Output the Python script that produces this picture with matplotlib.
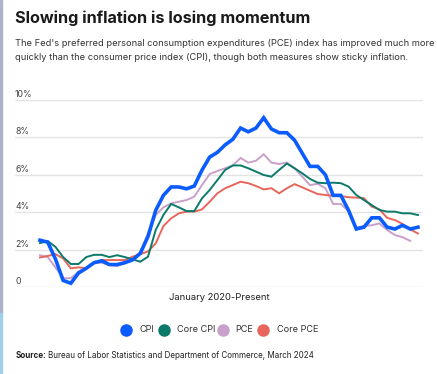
import matplotlib
matplotlib.use("Agg")
import matplotlib.pyplot as plt
from matplotlib.lines import Line2D
from matplotlib.patches import Rectangle
import numpy as np

months = list(range(50))  # Jan 2020 .. Feb 2024

cpi = [2.5, 2.4, 1.5, 0.35, 0.2, 0.75, 1.0, 1.3, 1.4, 1.2, 1.2, 1.3,
       1.45, 1.8, 2.7, 4.1, 4.9, 5.35, 5.35, 5.25, 5.4, 6.25, 6.95, 7.2,
       7.6, 7.9, 8.5, 8.3, 8.5, 9.05, 8.45, 8.25, 8.25, 7.85, 7.15, 6.45,
       6.45, 6.0, 4.9, 4.9, 4.1, 3.1, 3.2, 3.7, 3.7, 3.2, 3.1, 3.3, 3.1, 3.2]

core_cpi = [2.35, 2.45, 2.15, 1.6, 1.23, 1.23, 1.6, 1.72, 1.72, 1.6, 1.7, 1.6,
            1.48, 1.35, 1.62, 3.05, 3.85, 4.44, 4.26, 4.06, 4.06, 4.74, 5.19, 5.72,
            6.26, 6.5, 6.5, 6.35, 6.17, 5.99, 5.9, 6.26, 6.6, 6.35, 6.08, 5.78,
            5.58, 5.55, 5.58, 5.55, 5.37, 4.92, 4.65, 4.38, 4.12, 4.03, 4.03, 3.94, 3.94, 3.85]

pce = [1.7, 1.6, 1.05, 0.47, 0.47, 0.82, 1.05, 1.27, 1.3, 1.18, 1.12, 1.27,
       1.48, 1.85, 2.87, 3.85, 4.26, 4.47, 4.56, 4.65, 4.83, 5.45, 6.04, 6.2,
       6.35, 6.5, 6.9, 6.65, 6.75, 7.1, 6.65, 6.58, 6.65, 6.35, 5.9, 5.45,
       5.52, 5.28, 4.44, 4.44, 4.05, 3.17, 3.27, 3.3, 3.4, 3.05, 2.78, 2.66, 2.47]

core_pce = [1.58, 1.66, 1.76, 1.53, 1.0, 1.05, 1.0, 1.27, 1.44, 1.44, 1.44, 1.44,
            1.62, 1.76, 1.9, 2.33, 3.26, 3.67, 3.94, 4.03, 4.03, 4.15, 4.56, 5.01,
            5.28, 5.45, 5.63, 5.55, 5.4, 5.22, 5.28, 5.01, 5.28, 5.5, 5.33, 5.15,
            4.97, 4.92, 4.88, 4.86, 4.8, 4.78, 4.75, 4.3, 4.15, 3.7, 3.58, 3.37, 3.08, 2.86]

yticks = [0, 2, 4, 6, 8, 10]
ytick_labels = ["0", "2%", "4%", "6%", "8%", "10%"]
series_names = ["CPI", "Core CPI", "PCE", "Core PCE"]

colors = {"CPI": "#0B5CFF", "Core CPI": "#0B7A6A", "PCE": "#C9A0CA", "Core PCE": "#E8665C"}
widths = {"CPI": 2.6, "Core CPI": 1.4, "PCE": 1.4, "Core PCE": 1.4}

plt.rcParams['font.family'] = ['Inter', 'DejaVu Sans']

W, H = 437, 374
fig = plt.figure(figsize=(W / 100, H / 100), dpi=100)
fig.patch.set_facecolor("white")

def fx(px):
    return px / W

def fy(py):
    return 1 - py / H

# left edge strip
fig.patches.append(Rectangle((0, fy(313)), fx(1.5), 1 - fy(313), transform=fig.transFigure,
                             color="#AEB3C9", zorder=0))
fig.patches.append(Rectangle((0, 0), fx(1.5), fy(313), transform=fig.transFigure,
                             color="#9ED0EA", zorder=0))

# axes: gridline region x 15..423, y 100..287
ax = fig.add_axes([fx(15), fy(287), fx(423 - 15), (287 - 100) / H])
ax.set_xlim(-3.24, 49.65)
ax.set_ylim(0, 10)
for s in ax.spines.values():
    s.set_visible(False)
ax.set_xticks([])
ax.set_yticks(yticks)
ax.set_yticklabels([])
ax.tick_params(axis="y", length=0)
ax.grid(axis="y", color="#E3E3E3", linewidth=1.0)
ax.set_axisbelow(True)

for v, lab in zip(yticks, ytick_labels):
    ax.annotate(lab, xy=(0, v), xycoords=("axes fraction", "data"),
                xytext=(0, 4.0), textcoords="offset points",
                ha="left", va="center", fontsize=6.3, color="#444444")

data = {"CPI": cpi, "Core CPI": core_cpi, "PCE": pce, "Core PCE": core_pce}
order = ["PCE", "Core PCE", "Core CPI", "CPI"]
for name in order:
    vals = data[name]
    ax.plot(months[:len(vals)], vals, color=colors[name], lw=widths[name],
            solid_joinstyle="miter", clip_on=False, zorder=3 if name == "CPI" else 2)

# x label
fig.text(fx(219), fy(297), "January 2020-Present", ha="center", va="center",
         fontsize=6.8, color="#222222")

# legend (manual placement)
marker_x = [126.0, 164.0, 222.7, 263.3]
label_x = [139.0, 177.0, 235.0, 277.0]
for n, mx, lx in zip(series_names, marker_x, label_x):
    fig.add_artist(Line2D([fx(mx)], [fy(330)], transform=fig.transFigure, linestyle="none",
                          marker="o", markersize=8.0, markerfacecolor=colors[n],
                          markeredgecolor=colors[n]))
    fig.text(fx(lx), fy(330), n, ha="left", va="center", fontsize=6.6, color="#333333")

# title & subtitle
fig.text(fx(15), fy(18), "Slowing inflation is losing momentum", ha="left", va="center",
         fontsize=11.7, fontweight="bold", color="#1A1A1A")
fig.text(fx(15), fy(44), "The Fed's preferred personal consumption expenditures (PCE) index has improved much more",
         ha="left", va="center", fontsize=6.7, color="#333333")
fig.text(fx(15), fy(57), "quickly than the consumer price index (CPI), though both measures show sticky inflation.",
         ha="left", va="center", fontsize=6.7, color="#333333")

# source
fig.text(fx(16), fy(355), "Source:", ha="left", va="center", fontsize=5.8,
         fontweight="bold", color="#222222")
fig.text(fx(48), fy(355), "Bureau of Labor Statistics and Department of Commerce, March 2024",
         ha="left", va="center", fontsize=5.8, color="#222222")

fig.savefig("out.png", dpi=100)
